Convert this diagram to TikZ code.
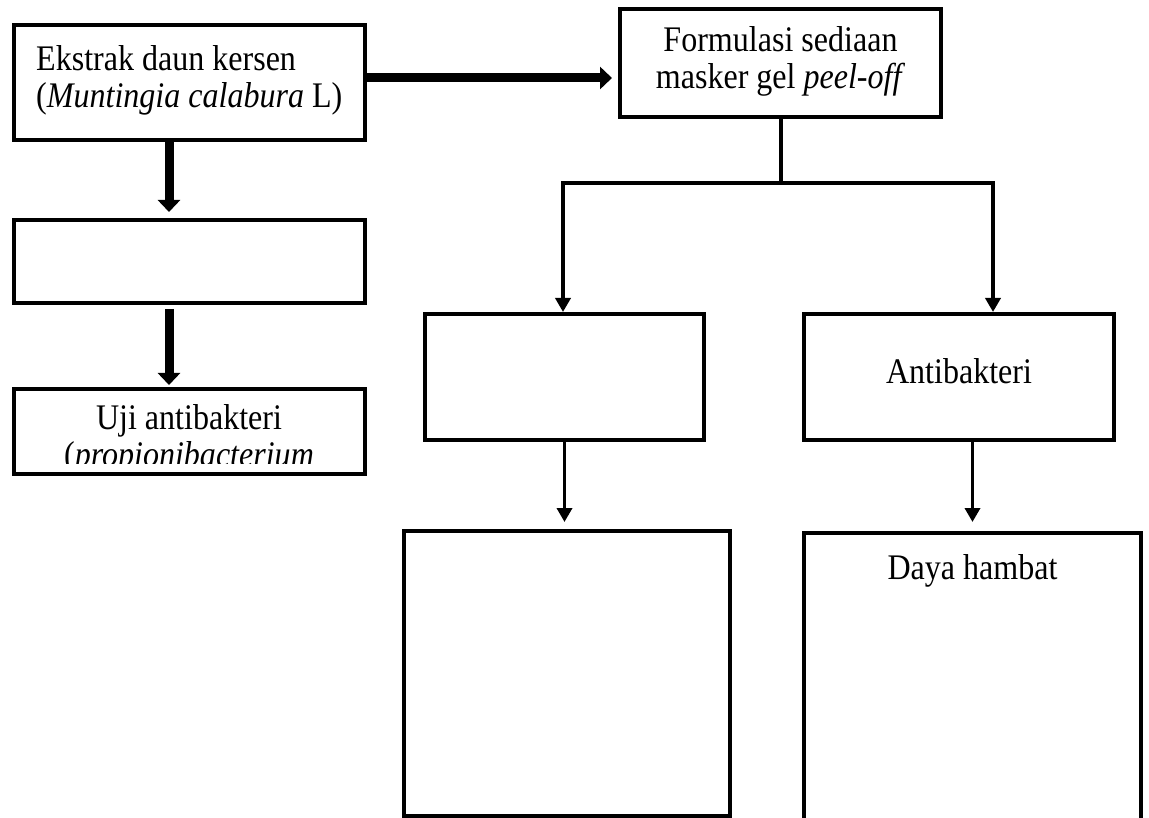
\documentclass[tikz,border=0pt]{standalone}
\usepackage{fontspec}
\setmainfont{Liberation Serif}[FakeStretch=0.89]
\usetikzlibrary{arrows.meta,calc}
\begin{document}
\begin{tikzpicture}[x=1pt,y=-1pt,
  box/.style={draw, line width=4pt, rectangle, inner sep=0pt, outer sep=0pt},
  txt/.style={inner sep=0pt, font=\fontsize{36}{37}\selectfont},
  thickarrow/.style={line width=9pt, -{Triangle[length=12pt,width=22pt]}},
  thinarrow/.style={line width=3.5pt, -{Triangle[length=14pt,width=15pt]}},
  thinline/.style={line width=4pt}]
\useasboundingbox (0,0) rectangle (1149,818);
% boxes
\node[box, minimum width=351pt, minimum height=114.5pt] (b1) at (189,82.75) {};
\node[box, minimum width=321pt, minimum height=107.5pt] (b2) at (780.5,63.25) {};
\node[box, minimum width=351pt, minimum height=83pt] (b3) at (189,261.5) {};
\node[box, minimum width=351pt, minimum height=85pt] (b4) at (189,431.5) {};
\node[box, minimum width=279pt, minimum height=126pt] (b5) at (564.5,377) {};
\node[box, minimum width=310pt, minimum height=126pt] (b6) at (959,377) {};
\node[box, minimum width=326pt, minimum height=285pt] (b7) at (567,673.5) {};
\node[box, minimum width=337pt, minimum height=307pt] (b8) at (972.5,686.5) {};
% texts
\node[txt, anchor=base west] (t1a) at (36,71) {Ekstrak daun kersen};
\node[txt, anchor=base west] (t1b) at (36,108) {(\textit{Muntingia calabura} L)};
\node[txt, anchor=base] (t2a) at (780.5,52) {Formulasi sediaan};
\node[txt, anchor=base] (t2b) at (780.5,89) {masker gel \textit{peel-off}};
\node[txt, anchor=base] (t4a) at (189,429) {Uji antibakteri};
\begin{scope}
  \clip (0,440) rectangle (1149,463);
  \node[txt, anchor=base] (t4b) at (189,466) {(\textit{propionibacterium}};
\end{scope}
\node[txt, anchor=base] (t6) at (959,384) {Antibakteri};
\node[txt, anchor=base] (t8) at (972.5,579) {Daya hambat};
% connectors
\coordinate (ha) at (0,78);
\draw[thickarrow, shorten >=8pt] (b1.east |- ha) -- (b2.west |- ha);
\draw[thickarrow] ([xshift=-20pt]b1.south) -- ([xshift=-20pt,yshift=8pt]b3.north);
\draw[thickarrow] ([xshift=-20pt,yshift=-6pt]b3.south) -- ([xshift=-20pt,yshift=4pt]b4.north);
\coordinate (jl) at (563,183);
\coordinate (jr) at (993,183);
\draw[thinline] (b2.south) -- (b2.south |- jl);
\draw[thinline, line cap=rect] (jl) -- (jr);
\draw[thinarrow, shorten >=2pt] (jl) -- (jl |- b5.north);
\draw[thinarrow, shorten >=2pt] (jr) -- (jr |- b6.north);
\draw[thinarrow, shorten >=9pt] (b5.south) -- (b5.south |- b7.north);
\draw[thinarrow, shorten >=11pt] (b8.north |- b6.south) -- (b8.north);
\end{tikzpicture}
\end{document}
